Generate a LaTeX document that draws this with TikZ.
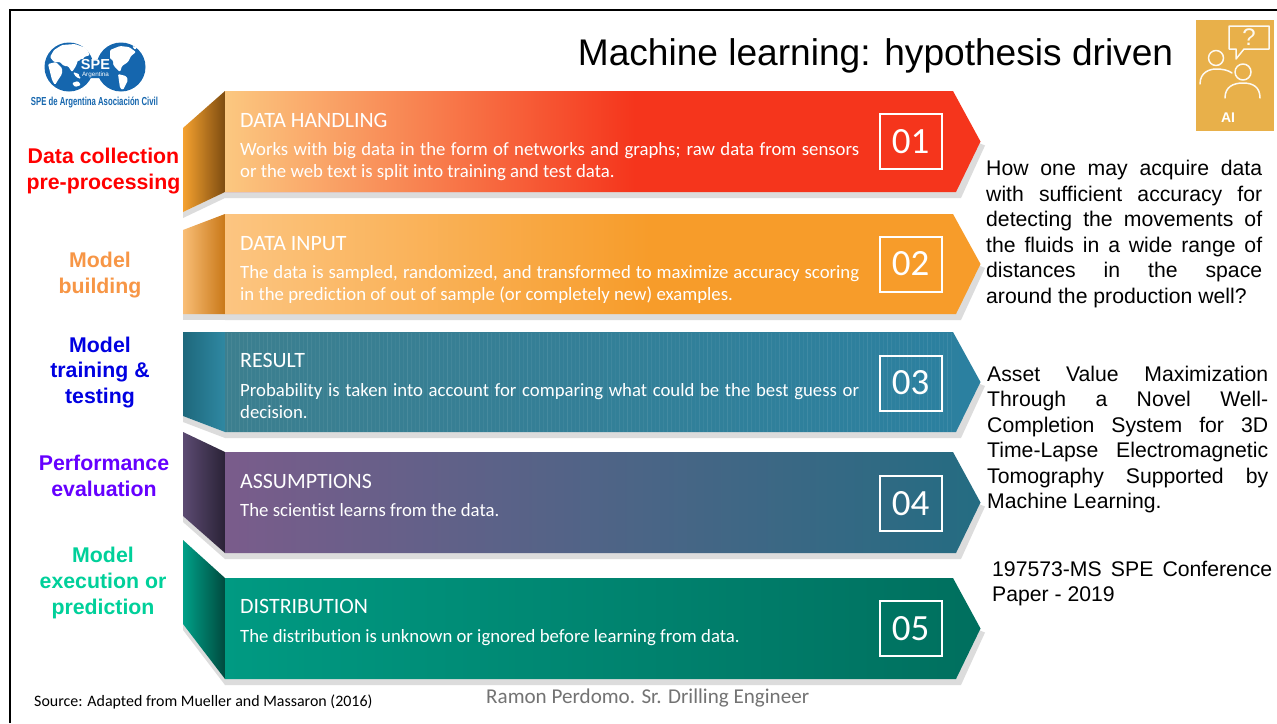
\documentclass[tikz,border=0pt]{standalone}
\usepackage{fontspec}
\setmainfont{Liberation Sans}
\newfontfamily\calfont[Ligatures=NoCommon]{Carlito}
\definecolor{speblue}{HTML}{1566AE}
\definecolor{iconyellow}{HTML}{E8B04A}
\definecolor{shadowcol}{HTML}{DCDCDC}
\tikzset{
 x=1pt,y=-1pt,
 shadowfill/.style={fill=shadowcol,draw=none},
 numbox/.style={draw=white,line width=2pt,minimum width=62pt,minimum height=55pt,inner sep=0pt,text=white,font=\calfont\fontsize{37}{37}\selectfont},
 headtext/.style={anchor=base west,inner sep=0pt,text=white,font=\calfont\fontsize{21.9}{22}\selectfont},
 bodytext/.style={anchor=base west,inner sep=0pt,text=white,font=\calfont\fontsize{18.75}{20}\selectfont},
 sidelabel/.style={inner sep=0pt,align=center,font=\bfseries\fontsize{21.3}{25.7}\selectfont},
 paratext/.style={anchor=base west,inner sep=0pt,text=black,font=\fontsize{21.2}{24}\selectfont},
 iconline/.style={draw=white!92!iconyellow,line width=1.5pt,line cap=round,line join=round},
 landmass/.style={fill=white,rounded corners=1.2pt},
}
% #1 top y, #2 bottom y, #3 left colour, #4 middle colour, #5 right colour
\newcommand{\bandshape}[5]{%
 \definecolor{bandL}{HTML}{#3}\definecolor{bandM}{HTML}{#4}\definecolor{bandR}{HTML}{#5}%
 \fill[shadowfill] (225,{#2}) -- (225,{#2+6}) -- (961,{#2+6}) -- (985,{(#1+#2)/2+4}) -- (975,{(#1+#2)/2}) -- cycle;
 \shade[left color=bandL,middle color=bandM,right color=bandR] (225,{#1}) -- (953,{#1}) -- (980.5,{(#1+#2)/2}) -- (956,{#2}) -- (225,{#2}) -- cycle;
}
% #1 upper-left y, #2 lower-left y, #3 top y, #4 bottom y, #5 left colour, #6 right colour
\newcommand{\sideface}[6]{%
 \definecolor{sideL}{HTML}{#5}\definecolor{sideR}{HTML}{#6}%
 \fill[shadowfill] (183,{#2}) -- (225,{#4}) -- (225,{#4+6}) -- (183,{#2+6}) -- cycle;
 \shade[left color=sideL,right color=sideR] (183,{#1}) -- (225,{#3}) -- (225,{#4}) -- (183,{#2}) -- cycle;
}
\begin{document}
\begin{tikzpicture}
\useasboundingbox (0,0) rectangle (1277,723);
\fill[white] (0,0) rectangle (1277,723);
\draw[black,line width=2.6pt] (10,723) -- (10,10) -- (1277,10);
% logo
\fill[speblue] (69,67) circle (24.5);
\fill[speblue] (121,67) circle (24.5);
\fill[landmass] (54,50) -- (62,45) -- (75,44) -- (86,48) -- (90,55) -- (84,57) -- (82,62) -- (78,60) -- (76,66) -- (72,72) -- (68,66) -- (64,66) -- (60,62) -- (54,62) -- (50,57) -- cycle;
\fill[landmass] (48,64) -- (56,62) -- (62,68) -- (62,74) -- (58,80) -- (55,85) -- (52,80) -- (50,72) -- cycle;
\fill[landmass] (73,72) -- (79,74) -- (81,79) -- (76,77) -- cycle;
\fill[landmass] (72,83) -- (78,81) -- (81,85) -- (75,87) -- cycle;
\fill[landmass] (110,50) -- (120,46) -- (129,47) -- (136,52) -- (131,56) -- (128,62) -- (122,66) -- (120,72) -- (114,66) -- (110,58) -- cycle;
\fill[landmass] (118,74) -- (126,76) -- (128,80) -- (123,90) -- (120,88) -- cycle;
\fill[landmass] (132,46) -- (137,47) -- (135,50) -- cycle;
\fill[speblue,rounded corners=3pt] (79,59) rectangle (113,78);
\node[inner sep=0pt,text=white,font=\bfseries\fontsize{14.5}{14.5}\selectfont] (logoSPE) at (95.5,65) {SPE};
\node[inner sep=0pt,text=white,font=\fontsize{6.3}{6.5}\selectfont] (logoArg) at (95.5,74.5) {Argentina};
\node[inner sep=0pt,text=speblue] (logoName) at (94.5,102.5) {\resizebox{127pt}{8.5pt}{\bfseries SPE de Argentina Asociación Civil}};
% title
\node[anchor=base,inner sep=0pt,font=\fontsize{37.1}{40}\selectfont] (title) at (875.5,65) {Machine learning: hypothesis driven};
% AI icon
\fill[iconyellow] (1196,20) rectangle (1274,131);
\draw[iconline] (1229,26) -- (1269,26) -- (1269,49) -- (1244,49) -- (1236,59) -- (1236,49) -- (1229,49) -- cycle;
\node[inner sep=0pt,text=white!92!iconyellow,font=\fontsize{24}{24}\selectfont] (iconq) at (1249,37.5) {?};
\draw[iconline] (1216,58) circle (7.5);
\draw[iconline] (1243,72) circle (8);
\draw[iconline] (1200,84) .. controls (1200,72) and (1210,69) .. (1216,69) .. controls (1222,69) and (1228,70) .. (1232,73);
\draw[iconline] (1225,98) .. controls (1225,87) and (1233,83) .. (1243,83) .. controls (1253,83) and (1260,87) .. (1260,98);
\node[inner sep=0pt,text=white,font=\bfseries\fontsize{14}{14}\selectfont] (iconAI) at (1228,118) {AI};
% band 1
\sideface{128}{212}{91}{192}{F5A12F}{7D4C10}
\bandshape{91}{192}{F5351C}{F5351C}{F5351C}
\shade[left color={rgb,255:red,251;green,200;blue,128},middle color={rgb,255:red,251;green,136;blue,86},right color={rgb,255:red,245;green,53;blue,28}] (225,91) rectangle (635,191.5);
% band 2
\sideface{230}{314}{214}{314}{F9BE76}{C97818}
\bandshape{214}{314}{F79C2A}{F79C2A}{F79C2A}
\shade[left color={rgb,255:red,252;green,197;blue,129},middle color={rgb,255:red,249;green,176;blue,90},right color={rgb,255:red,247;green,156;blue,42}] (225,214) rectangle (650,313.5);
% band 3
\sideface{332}{416}{332}{432}{1E687C}{2F88A2}
\bandshape{332}{432}{3C7F8F}{35798F}{2B80A0}
\foreach \sx in {227,231,...,951}{
 \pgfmathsetmacro{\sop}{0.03+0.07*mod(\sx*7,5)/5}
 \draw[white,opacity=\sop,line width=1pt] (\sx,332.5) -- (\sx,431.5);
}
% band 4
\sideface{432}{516}{452}{553}{5C4B72}{2A2236}
\bandshape{452}{553}{7A5C8B}{566480}{246C82}
% band 5
\sideface{540}{624}{578}{679}{00A088}{004A3E}
\bandshape{578}{679}{009A82}{00947B}{006F5E}
% number boxes
\node[numbox] (n1) at (910.5,141.5) {01};
\node[numbox] (n2) at (910.5,264) {02};
\node[numbox] (n3) at (910.5,383) {03};
\node[numbox] (n4) at (910.5,503.5) {04};
\node[numbox] (n5) at (910.5,628.5) {05};
% band text
\node[headtext] (h1) at (240,127) {DATA HANDLING};
\node[bodytext] (b1a) at (240,155) {\makebox[619pt][s]{Works with big data in the form of networks and graphs; raw data from sensors}};
\node[bodytext] (b1b) at (240,177) {or the web text is split into training and test data.};
\node[headtext] (h2) at (240,250) {DATA INPUT};
\node[bodytext] (b2a) at (240,278) {\makebox[619pt][s]{The data is sampled, randomized, and transformed to maximize accuracy scoring}};
\node[bodytext] (b2b) at (240,300) {in the prediction of out of sample (or completely new) examples.};
\node[headtext] (h3) at (240,367) {RESULT};
\node[bodytext] (b3a) at (240,396) {\makebox[619pt][s]{Probability is taken into account for comparing what could be the best guess or}};
\node[bodytext] (b3b) at (240,418) {decision.};
\node[headtext] (h4) at (240,488) {ASSUMPTIONS};
\node[bodytext] (b4a) at (240,516) {The scientist learns from the data.};
\node[headtext] (h5) at (240,613) {DISTRIBUTION};
\node[bodytext] (b5a) at (240,642) {The distribution is unknown or ignored before learning from data.};
% side labels
\node[sidelabel,text=red] (s1) at (103.5,171) {Data collection\\pre-processing};
\node[sidelabel,text={rgb,255:red,247;green,150;blue,70}] (s2) at (100,275) {Model\\building};
\node[sidelabel,text={rgb,255:red,0;green,0;blue,225}] (s3) at (100,372.5) {Model\\training \&\\testing};
\node[sidelabel,text={rgb,255:red,102;green,0;blue,255}] (s4) at (104,476) {Performance\\evaluation};
\node[sidelabel,text={rgb,255:red,0;green,208;blue,154}] (s5) at (103,583) {Model\\execution or\\prediction};
% right paragraphs
\node[paratext] (p1a) at (986,175.5) {\makebox[276pt][s]{How one may acquire data}};
\node[paratext] (p1b) at (986,201) {\makebox[276pt][s]{with sufficient accuracy for}};
\node[paratext] (p1c) at (986,226.5) {\makebox[276pt][s]{detecting the movements of}};
\node[paratext] (p1d) at (986,252) {\makebox[276pt][s]{the fluids in a wide range of}};
\node[paratext] (p1e) at (986,277.5) {\makebox[276pt][s]{distances in the space}};
\node[paratext] (p1f) at (986,303) {around the production well?};
\node[paratext] (p2a) at (987,381) {\makebox[281pt][s]{Asset Value Maximization}};
\node[paratext] (p2b) at (987,406.5) {\makebox[281pt][s]{Through a Novel Well-}};
\node[paratext] (p2c) at (987,432) {\makebox[281pt][s]{Completion System for 3D}};
\node[paratext] (p2d) at (987,457.5) {\makebox[281pt][s]{Time-Lapse Electromagnetic}};
\node[paratext] (p2e) at (987,483) {\makebox[281pt][s]{Tomography Supported by}};
\node[paratext] (p2f) at (987,508.5) {Machine Learning.};
\node[paratext] (p3a) at (992,576) {\makebox[280pt][s]{197573-MS SPE Conference}};
\node[paratext] (p3b) at (992,601.5) {Paper - 2019};
% footer
\node[anchor=base west,inner sep=0pt,font=\calfont\fontsize{15.95}{16}\selectfont] (src) at (34,706) {Source: Adapted from Mueller and Massaron (2016)};
\node[anchor=base west,inner sep=0pt,text=black!55,font=\calfont\fontsize{21.1}{22}\selectfont] (auth) at (486,703) {Ramon Perdomo. Sr. Drilling Engineer};
\end{tikzpicture}
\end{document}
